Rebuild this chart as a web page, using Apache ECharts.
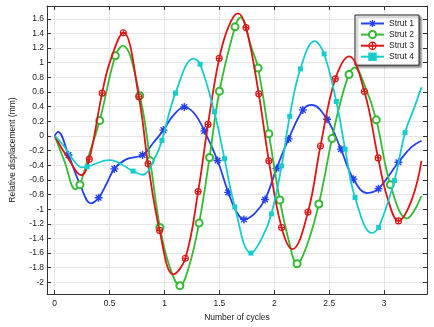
<!DOCTYPE html>
<html><head><meta charset="utf-8">
<script src="https://cdn.jsdelivr.net/npm/echarts@6/dist/echarts.min.js"></script>
<style>html,body{margin:0;padding:0;background:#fff}#c{width:434px;height:327px}</style>
</head><body><div id="c"></div>
<script>
const seriesNames = ['Strut 1', 'Strut 2', 'Strut 3', 'Strut 4'];
const xTitle = 'Number of cycles';
const yTitle = 'Relative displacement (mm)';

// Marked samples (drawn with a symbol)
const strut1Marks = [[0.126,-0.26],[0.4,-0.845],[0.543,-0.45],[0.8,-0.26],[0.99,0.08],[1.18,0.395],[1.363,0.07],[1.483,-0.335],[1.58,-0.77],[1.723,-1.14],[1.915,-0.867],[2.02,-0.445],[2.13,-0.04],[2.26,0.356],[2.48,0.228],[2.606,-0.18],[2.72,-0.59],[2.948,-0.72],[3.13,-0.36]];
const strut2Marks = [[0.23,-0.665],[0.41,0.21],[0.552,1.095],[0.775,0.55],[0.87,-0.34],[0.958,-1.25],[1.14,-2.045],[1.315,-1.19],[1.41,-0.295],[1.5,0.61],[1.642,1.49],[1.852,0.927],[1.95,0.03],[2.05,-0.875],[2.207,-1.745],[2.405,-0.93],[2.525,-0.036],[2.68,0.84],[2.928,0.22],[3.056,-0.665]];
const strut3Marks = [[0.315,-0.317],[0.432,0.585],[0.625,1.41],[0.766,0.536],[0.85,-0.38],[0.955,-1.29],[1.19,-1.67],[1.306,-0.76],[1.396,0.158],[1.498,1.06],[1.742,1.48],[1.858,0.575],[1.95,-0.34],[2.066,-1.25],[2.306,-1.04],[2.42,-0.137],[2.555,0.78],[2.82,0.607],[2.945,-0.3],[3.13,-1.16]];
const strut4Marks = [[0.297,-0.42],[0.714,-0.48],[0.976,-0.06],[1.1,0.585],[1.324,0.98],[1.453,0.33],[1.546,-0.31],[1.64,-0.97],[1.787,-1.6],[1.973,-1.065],[2.066,-0.41],[2.14,0.268],[2.237,0.915],[2.453,1.12],[2.564,0.47],[2.645,-0.18],[2.735,-0.84],[2.95,-1.25],[3.093,-0.61],[3.19,0.045]];

// Unmarked samples
const strut1Curve = [[0,0],[0.03,0.057],[0.23,-0.66],[0.33,-0.92],[0.47,-0.66],[0.65,-0.32],[0.9,-0.09],[1.08,0.28],[1.27,0.31],[1.65,-1.02],[1.82,-1.06],[2.34,0.425],[2.846,-0.78],[3.25,-0.15],[3.34,-0.066]];
const strut2Curve = [[0,0],[0.09,-0.35],[0.19,-0.73],[0.31,-0.27],[0.62,1.235],[1.05,-1.8],[1.22,-1.8],[1.69,1.62],[1.795,1.19],[2.13,-1.42],[2.3,-1.48],[2.6,0.45],[2.73,0.935],[2.82,0.7],[3.207,-1.127],[3.34,-0.82]];
const strut3Curve = [[0,0],[0.12,-0.3],[0.243,-0.537],[0.504,1.015],[1.08,-1.89],[1.585,1.5],[1.667,1.675],[2.165,-1.545],[2.68,1.086],[3.027,-0.83],[3.25,-0.876],[3.34,-0.34]];
const strut4Curve = [[0,0],[0.08,-0.13],[0.17,-0.33],[0.25,-0.43],[0.5,-0.33],[0.8,-0.53],[0.925,-0.26],[1.264,1.055],[1.886,-1.4],[2.366,1.295],[2.89,-1.325],[3.27,0.37],[3.34,0.665]];

const colors = ['#2440f0', '#33bb33', '#e01414', '#18cccc'];
const FONT = "'Liberation Sans', Arial, sans-serif";

function build(curve, marks) {
  const pts = curve.map(p => ({ value: p, symbol: 'none' }))
    .concat(marks.map(p => ({ value: p })));
  pts.sort((a, b) => a.value[0] - b.value[0]);
  return pts;
}

const symbols = [
  { symbol: 'path://M0,-10L0,10M-10,0L10,0M-7,-7L7,7M-7,7L7,-7', size: 8, fill: colors[0], bw: 1.4 },
  { symbol: 'emptyCircle', size: 7, fill: colors[1], bw: 1.2 },
  { symbol: 'path://M0,-10A10,10 0 1 1 0,10A10,10 0 1 1 0,-10ZM-10,0L10,0M0,-10L0,10', size: 6, fill: 'rgba(255,255,255,0)', bw: 1.1 },
  { symbol: 'rect', size: 5, fill: colors[3], bw: 0 }
];

const datasets = [build(strut1Curve, strut1Marks), build(strut2Curve, strut2Marks), build(strut3Curve, strut3Marks), build(strut4Curve, strut4Marks)];

const axisLineStyle = { color: '#333', width: 1 };
const xRange = { min: -0.07, max: 3.39, splitNumber: 7 };
const yRange = { min: -2.16, max: 1.775, splitNumber: 20 };

const chart = echarts.init(document.getElementById('c'), null, { renderer: 'canvas' });
chart.setOption({
  animation: false,
  backgroundColor: '#fff',
  textStyle: { fontFamily: FONT },
  grid: { left: 43, right: 7, top: 6, bottom: 23, containLabel: false },
  xAxis: [
    Object.assign({
      type: 'value', position: 'bottom',
      axisLine: { onZero: false, lineStyle: axisLineStyle },
      axisTick: { inside: true, length: 4, lineStyle: axisLineStyle },
      axisLabel: { fontSize: 8.5, color: '#222', margin: 5, showMinLabel: false, showMaxLabel: false, fontFamily: FONT },
      splitLine: { show: true, lineStyle: { color: '#e6e6e6', width: 1 } },
      name: xTitle, nameLocation: 'middle', nameGap: 12,
      nameTextStyle: { fontSize: 8.5, color: '#222', fontFamily: FONT }
    }, xRange),
    Object.assign({
      type: 'value', position: 'top',
      axisLine: { onZero: false, lineStyle: axisLineStyle },
      axisTick: { inside: true, length: 4, lineStyle: axisLineStyle },
      axisLabel: { show: false }, splitLine: { show: false }
    }, xRange)
  ],
  yAxis: [
    Object.assign({
      type: 'value', position: 'left',
      axisLine: { onZero: false, lineStyle: axisLineStyle },
      axisTick: { inside: true, length: 4, lineStyle: axisLineStyle },
      axisLabel: { fontSize: 8.5, color: '#222', margin: 3, showMinLabel: false, showMaxLabel: false, fontFamily: FONT },
      splitLine: { show: true, lineStyle: { color: '#e6e6e6', width: 1 } },
      name: yTitle, nameLocation: 'middle', nameGap: 30, nameRotate: 90,
      nameTextStyle: { fontSize: 8.5, color: '#222', fontFamily: FONT }
    }, yRange),
    Object.assign({
      type: 'value', position: 'right',
      axisLine: { onZero: false, lineStyle: axisLineStyle },
      axisTick: { inside: true, length: 4, lineStyle: axisLineStyle },
      axisLabel: { show: false }, splitLine: { show: false }
    }, yRange)
  ],
  legend: {
    orient: 'vertical', right: 15, top: 15,
    data: seriesNames,
    itemWidth: 23, itemHeight: 9, itemGap: 2,
    padding: [4, 5, 4, 5],
    borderColor: '#222', borderWidth: 1, borderRadius: 0,
    backgroundColor: '#fff',
    shadowColor: 'rgba(0,0,0,0.45)', shadowBlur: 2, shadowOffsetX: 2, shadowOffsetY: 2,
    itemStyle: { borderWidth: 1.2 },
    textStyle: { fontSize: 8.5, color: '#222', fontFamily: FONT }
  },
  series: seriesNames.map((name, i) => ({
    type: 'line', name: name,
    xAxisIndex: 0, yAxisIndex: 0,
    data: datasets[i],
    smooth: 0.4,
    showSymbol: true, showAllSymbol: true,
    symbol: symbols[i].symbol, symbolSize: symbols[i].size,
    lineStyle: { color: colors[i], width: 1.8 },
    itemStyle: { color: symbols[i].fill, borderColor: colors[i], borderWidth: symbols[i].bw },
    emphasis: { disabled: true },
    z: 2 + i
  }))
});
</script>
</body></html>
